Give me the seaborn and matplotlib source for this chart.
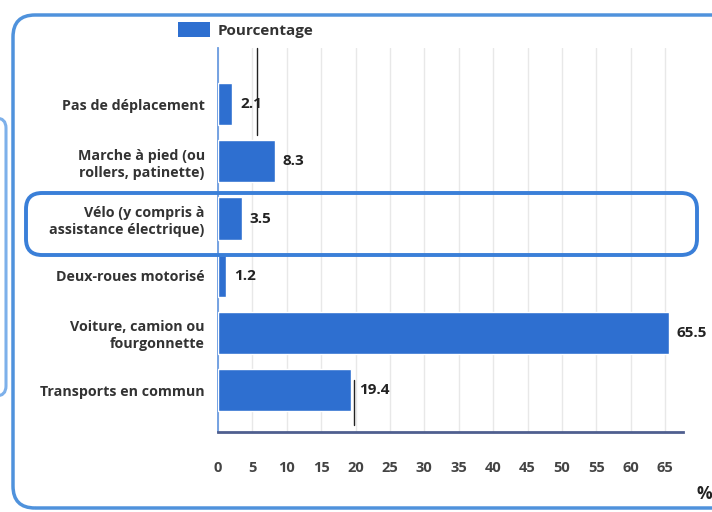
import matplotlib
matplotlib.use("Agg")
import matplotlib.pyplot as plt
import seaborn as sns
import pandas as pd
from matplotlib.patches import FancyBboxPatch, Patch
from matplotlib.lines import Line2D

categories = [
    "Pas de déplacement",
    "Marche à pied (ou\nrollers, patinette)",
    "Vélo (y compris à\nassistance électrique)",
    "Deux-roues motorisé",
    "Voiture, camion ou\nfourgonnette",
    "Transports en commun",
]
values = [2.1, 8.3, 3.5, 1.2, 65.5, 19.4]
value_labels = ["2.1", "8.3", "3.5", "1.2", "65.5", "19.4"]
x_ticks = [0, 5, 10, 15, 20, 25, 30, 35, 40, 45, 50, 55, 60, 65]
series_name = "Pourcentage"

sns.set_style("white")
plt.rcParams['font.family'] = ['Open Sans', 'DejaVu Sans']

W, H = 712, 512
fig = plt.figure(figsize=(W / 100, H / 100), dpi=100)
fig.patch.set_facecolor("white")

ax = fig.add_axes([218 / W, 1 - 432 / H, (683 - 218) / W, (432 - 48) / H])
df = pd.DataFrame({"cat": categories, "val": values})
bar_color = "#2e6fd0"
sns.barplot(data=df, y="cat", x="val", orient="h", color=bar_color,
            width=0.74, ax=ax, zorder=3, saturation=1)

ax.set_xlim(0, 67.6)
ax.set_ylim(5.73, -0.98)
ax.set_xticks(x_ticks)
ax.set_xticklabels([str(t) for t in x_ticks])
ax.set_xlabel("")
ax.set_ylabel("")
ax.grid(axis="x", color="#e8e8e8", linewidth=1, zorder=0)
ax.grid(axis="y", visible=False)
for s in ["top", "right"]:
    ax.spines[s].set_visible(False)
ax.spines["left"].set_color("#6a9be0")
ax.spines["left"].set_linewidth(1.3)
ax.spines["bottom"].set_color("#4f5f8f")
ax.spines["bottom"].set_linewidth(2)
ax.tick_params(axis="x", length=0, pad=21, labelsize=10.5, labelcolor="#444444")
ax.tick_params(axis="y", length=0, pad=9.5, labelsize=10.3, labelcolor="#333333")
for lab in ax.get_xticklabels() + ax.get_yticklabels():
    lab.set_fontweight("bold")
for lab in ax.get_yticklabels():
    lab.set_linespacing(1.25)

for i, (v, t) in enumerate(zip(values, value_labels)):
    ax.text(v + 1.1, i, t, va="center", ha="left", fontsize=11,
            fontweight="bold", color="#222222", zorder=4)

# legend
leg = fig.legend(handles=[Patch(facecolor=bar_color, edgecolor="none")],
                 labels=[series_name], loc="center left",
                 bbox_to_anchor=(178 / W, 1 - 30 / H), frameon=False,
                 borderaxespad=0, borderpad=0,
                 handlelength=2.1, handleheight=1.05, handletextpad=0.5,
                 prop={"size": 11, "weight": "bold"})
for txt in leg.get_texts():
    txt.set_color("#333333")

fig.text(712 / W, 1 - 494 / H, "%", ha="right", va="center", fontsize=12.5,
         fontweight="bold", color="#222222")

# frames
def px_box(x0, y0, x1, y1, color, lw, r):
    p = FancyBboxPatch((x0 / W, 1 - y1 / H), (x1 - x0) / W, (y1 - y0) / H,
                       boxstyle=f"round,pad=0,rounding_size={r / W}",
                       transform=fig.transFigure, fill=False,
                       edgecolor=color, linewidth=lw, zorder=10,
                       mutation_aspect=W / H)
    fig.add_artist(p)

px_box(13, 15, 760, 508, "#4f92dc", 2.5, 22)
px_box(26, 193, 697, 255, "#3a7fd8", 2.8, 16)
px_box(-30, 118, 6, 396, "#7db0ea", 2.2, 10)

# pen marks
fig.add_artist(Line2D([257 / W, 257 / W], [1 - 48 / H, 1 - 135 / H],
                      transform=fig.transFigure, color="#222222", lw=1))
fig.add_artist(Line2D([354 / W, 354 / W], [1 - 380 / H, 1 - 425 / H],
                      transform=fig.transFigure, color="#222222", lw=1))

fig.savefig("out.png", dpi=100)
